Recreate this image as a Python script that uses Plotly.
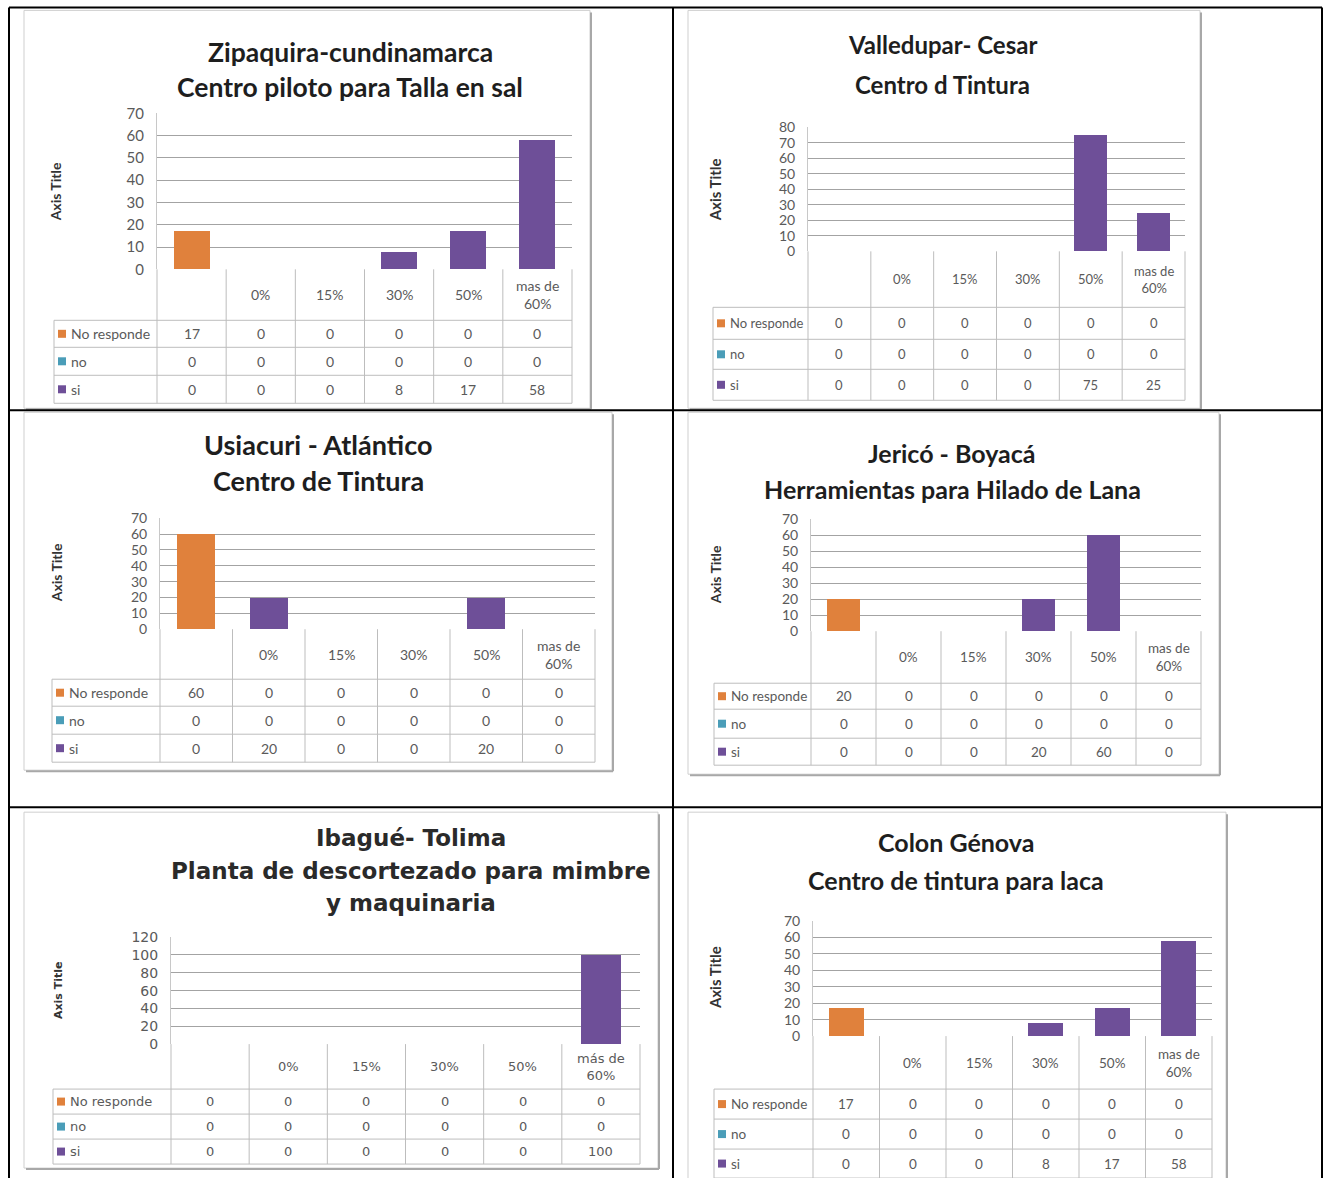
import plotly.graph_objects as go

# ---------------- DATA ----------------
categories = [" ", "0%", "15%", "30%", "50%", "mas de 60%"]
header_labels = ["", "0%", "15%", "30%", "50%", "mas de<br>60%"]
header_labels_p5 = ["", "0%", "15%", "30%", "50%", "más de<br>60%"]
series_names = ["No responde", "no", "si"]

titles = [
    ["Zipaquira-cundinamarca", "Centro piloto para Talla en sal"],
    ["Valledupar- Cesar", "Centro d Tintura"],
    ["Usiacuri - Atlántico", "Centro de Tintura"],
    ["Jericó - Boyacá", "Herramientas para Hilado de Lana"],
    ["Ibagué- Tolima", "Planta de descortezado para mimbre", "y maquinaria"],
    ["Colon Génova", "Centro de tintura para laca"],
]

zipaquira_no_responde = [17, 0, 0, 0, 0, 0]
zipaquira_no = [0, 0, 0, 0, 0, 0]
zipaquira_si = [0, 0, 0, 8, 17, 58]

valledupar_no_responde = [0, 0, 0, 0, 0, 0]
valledupar_no = [0, 0, 0, 0, 0, 0]
valledupar_si = [0, 0, 0, 0, 75, 25]

usiacuri_no_responde = [60, 0, 0, 0, 0, 0]
usiacuri_no = [0, 0, 0, 0, 0, 0]
usiacuri_si = [0, 20, 0, 0, 20, 0]

jerico_no_responde = [20, 0, 0, 0, 0, 0]
jerico_no = [0, 0, 0, 0, 0, 0]
jerico_si = [0, 0, 0, 20, 60, 0]

ibague_no_responde = [0, 0, 0, 0, 0, 0]
ibague_no = [0, 0, 0, 0, 0, 0]
ibague_si = [0, 0, 0, 0, 0, 100]

colon_no_responde = [17, 0, 0, 0, 0, 0]
colon_no = [0, 0, 0, 0, 0, 0]
colon_si = [0, 0, 0, 8, 17, 58]

panel_values = [
    [zipaquira_no_responde, zipaquira_no, zipaquira_si],
    [valledupar_no_responde, valledupar_no, valledupar_si],
    [usiacuri_no_responde, usiacuri_no, usiacuri_si],
    [jerico_no_responde, jerico_no, jerico_si],
    [ibague_no_responde, ibague_no, ibague_si],
    [colon_no_responde, colon_no, colon_si],
]
y_max = [70, 80, 70, 70, 120, 70]
y_step = [10, 10, 10, 10, 20, 10]

# ---------------- STYLE / LAYOUT ----------------
W, H = 1324, 1178
# vertical calibration of target pixel rows -> figure rows
CAL_A, CAL_B = 9.6, 0.985

series_colors = ["#E0813C", "#4A9DB8", "#6E4F98"]
GRID = "#a3a3a3"
TABLE = "#bdbdbd"
TXT = "#5a5a5a"

panels = [
    dict(frame=(24, 10, 590, 408), plot=(157, 572, 113, 269), ty=[52, 87], tx=350, tsize=26.5, tick=15, axts=14,
         axt=(55, 192), leg=54, rows=[320, 347, 375, 403], tab=14),
    dict(frame=(688, 10, 1200, 408), plot=(808, 1185, 127, 251), ty=[44, 84], tx=942, tsize=24, tick=14, axts=15,
         axt=(715, 190), leg=713, rows=[307, 339, 369, 400], tab=13),
    dict(frame=(24, 412, 612, 770), plot=(160, 595, 518, 629), ty=[444, 480], tx=318, tsize=27, tick=14, axts=14,
         axt=(56, 573), leg=52, rows=[679, 706, 734, 762], tab=14),
    dict(frame=(688, 412, 1219, 774), plot=(811, 1201, 519, 631), ty=[453, 489], tx=952, tsize=25, tick=14, axts=14,
         axt=(715, 575), leg=714, rows=[683, 709, 738, 765], tab=13.5),
    dict(frame=(24, 812, 658, 1168), plot=(171, 640, 937, 1044), ty=[838, 871, 903], tx=411, tsize=23, tick=14, axts=11,
         axt=(58, 990), leg=53, rows=[1089, 1114, 1139, 1164], tab=13),
    dict(frame=(688, 812, 1226, 1195), plot=(813, 1212, 921, 1036), ty=[842, 880], tx=956, tsize=25, tick=14, axts=15,
         axt=(715, 978), leg=714, rows=[1089, 1119, 1149, 1178], tab=13.5),
]


def fx(px):
    return px / W


def fy(py):
    return 1 - ((py - CAL_A) / CAL_B) / H


fig = go.Figure()
shapes = []
annotations = []


def line(x0, y0, x1, y1, color, width=1):
    shapes.append(dict(type="line", xref="paper", yref="paper",
                       x0=fx(x0), y0=fy(y0), x1=fx(x1), y1=fy(y1),
                       line=dict(color=color, width=width), layer="above"))


def square(x0, y0, size, color):
    shapes.append(dict(type="rect", xref="paper", yref="paper",
                       x0=fx(x0), y0=fy(y0 + size), x1=fx(x0 + size), y1=fy(y0),
                       line=dict(width=0), fillcolor=color, layer="above"))


def text(x, y, s, size, color=TXT, family="Lato", weight="normal", angle=0, xanchor="center"):
    annotations.append(dict(xref="paper", yref="paper", x=fx(x), y=fy(y), text=s,
                            showarrow=False, xanchor=xanchor, yanchor="middle",
                            textangle=angle,
                            font=dict(size=size, color=color, family=family, weight=weight)))


layout_axes = {}
for i, (p, vals) in enumerate(zip(panels, panel_values)):
    n = i + 1
    xa = "x" if n == 1 else f"x{n}"
    ya = "y" if n == 1 else f"y{n}"
    is5 = (i == 4)
    fam = "DejaVu Sans" if is5 else "Lato"
    x0, x1, ytop, ybot = p["plot"]

    # chart frame
    fl, ft, fr, fb = p["frame"]
    shapes.append(dict(type="rect", xref="paper", yref="paper", x0=fx(fl), y0=fy(fb), x1=fx(fr), y1=fy(ft),
                       line=dict(color="#cfcfcf", width=1), fillcolor="rgba(0,0,0,0)", layer="below"))
    line(fr + 1, ft + 2, fr + 1, fb + 1, "#a8a8a8", 2)
    line(fl + 2, fb + 1, fr + 1, fb + 1, "#a8a8a8", 2)

    for s, (name, color) in enumerate(zip(series_names, series_colors)):
        fig.add_trace(go.Bar(x=categories, y=vals[s], name=name, marker=dict(color=color, line=dict(width=0)),
                             width=0.52, xaxis=xa, yaxis=ya, showlegend=False))

    layout_axes["xaxis" if n == 1 else f"xaxis{n}"] = dict(
        domain=[fx(x0), fx(x1)], anchor=ya, type="category", categoryorder="array",
        categoryarray=categories, range=[-0.5, 5.5], showticklabels=False,
        showgrid=False, zeroline=False, showline=False, fixedrange=True)
    layout_axes["yaxis" if n == 1 else f"yaxis{n}"] = dict(
        domain=[fy(ybot), fy(ytop)], anchor=xa, range=[0, y_max[i]], dtick=y_step[i], tick0=0,
        showgrid=True, gridcolor=GRID, gridwidth=1, zeroline=False,
        showline=True, linecolor="#c8c8c8", linewidth=1,
        tickfont=dict(family=fam, size=p["tick"], color=TXT),
        ticklabelstandoff=9, fixedrange=True)

    # titles
    for k, t in enumerate(titles[i]):
        if is5:
            text(p["tx"], p["ty"][k], t, p["tsize"], color="#2a2a2a", family="DejaVu Sans", weight="bold")
        else:
            text(p["tx"], p["ty"][k], t, p["tsize"], color="#1e1e1e", family="Lato", weight="bold")
    # axis title
    text(p["axt"][0], p["axt"][1], "Axis Title", p["axts"], color="#333333", family=fam, weight="bold", angle=-90)

    # data table under the plot
    rows = p["rows"]
    colw = (x1 - x0) / 6.0
    xs = [x0 + colw * c for c in range(7)]
    leg = p["leg"]
    for r in rows:
        line(leg, r, x1, r, TABLE)
    for xv in xs:
        line(xv, ybot, xv, rows[-1], TABLE)
    line(leg, rows[0], leg, rows[-1], TABLE)
    tsz = p["tab"]
    hl = header_labels_p5 if is5 else header_labels
    hy = (ybot + rows[0]) / 2
    for c in range(6):
        if hl[c]:
            text((xs[c] + xs[c + 1]) / 2, hy, hl[c], tsz, family=fam)
    for s in range(3):
        ry = (rows[s] + rows[s + 1]) / 2
        square(leg + 4, ry - 4, 8, series_colors[s])
        text(leg + 15, ry, series_names[s], tsz, family=fam, xanchor="left")
        for c in range(6):
            text((xs[c] + xs[c + 1]) / 2, ry, str(vals[s][c]), tsz, family=fam)

# outer document-table borders
BLK = "#000000"
for xv in [9, 673, 1322]:
    line(xv, 7, xv, 1190, BLK, 2)
for yv in [7, 410, 807]:
    line(9, yv, 1322, yv, BLK, 2)

fig.update_layout(
    width=W, height=H, margin=dict(l=0, r=0, t=0, b=0),
    paper_bgcolor="white", plot_bgcolor="white",
    barmode="stack", showlegend=False,
    shapes=shapes, annotations=annotations,
    **layout_axes,
)

post = ("var d=document.getElementById('{plot_id}');"
        "d.style.position='fixed';d.style.top='0px';d.style.left='0px';"
        "document.body.style.margin='0';document.documentElement.style.overflow='hidden';")
fig.write_html("out.html", config={"displayModeBar": False}, post_script=post)
